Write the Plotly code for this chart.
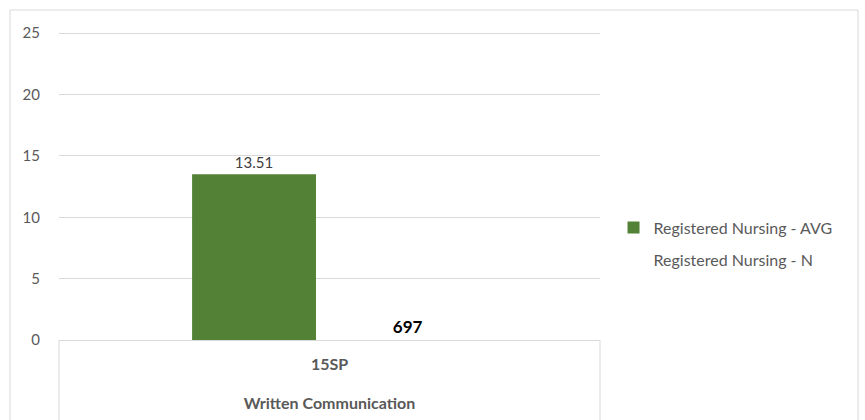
import plotly.graph_objects as go

# Chart data
group_label = "Written Communication"
terms = ["15SP"]
avg_values = [13.51]
n_values = [697]
series_names = ["Registered Nursing - AVG", "Registered Nursing - N"]

FONT = "Lato"
GRID = "#d9d9d9"
TEXT = "#595959"

fig = go.Figure()

fig.add_trace(go.Bar(
    x=terms, y=avg_values, name=series_names[0],
    marker=dict(color="#538135", line=dict(width=0)),
    width=0.229, offset=-0.254,
    text=[f"{v:.2f}" for v in avg_values], textposition="outside",
    textfont=dict(family=FONT, size=15, color="#404040"),
    cliponaxis=False, legendgroup="a",
))

# N series: counts on a hidden secondary axis, bar itself left unfilled
fig.add_trace(go.Bar(
    x=terms, y=n_values, name=series_names[1], yaxis="y2",
    marker=dict(color="rgba(0,0,0,0)", line=dict(width=0)),
    width=0.229, offset=0.03,
    text=[f"{v}" for v in n_values], textposition="inside", insidetextanchor="start",
    textfont=dict(family=FONT, size=17, color="#000000", weight="bold"),
    legendgroup="b",
))

fig.update_layout(
    width=865, height=420,
    margin=dict(l=59, r=265, t=32, b=80),
    paper_bgcolor="white", plot_bgcolor="white",
    font=dict(family=FONT, size=15, color=TEXT),
    barmode="overlay",
    showlegend=True,
    legend=dict(x=1.025, y=0.313, xanchor="left", yanchor="middle",
                font=dict(family=FONT, size=16, color=TEXT),
                tracegroupgap=8, itemwidth=30),
    xaxis=dict(type="category", range=[-0.5, 0.5], showgrid=False,
               showline=True, linecolor=GRID, linewidth=1, ticks="",
               ticklabelstandoff=10,
               tickfont=dict(family=FONT, size=16, color=TEXT, weight="bold"),
               title=dict(text=group_label, standoff=25,
                          font=dict(family=FONT, size=16, color=TEXT, weight="bold"))),
    yaxis=dict(range=[0, 25.1], dtick=5, showgrid=True, gridcolor=GRID, gridwidth=1,
               zeroline=False, showline=False, ticks="outside", ticklen=15,
               tickcolor="rgba(0,0,0,0)",
               tickfont=dict(family=FONT, size=15, color=TEXT)),
    yaxis2=dict(range=[0, 1000], overlaying="y", side="right", visible=False),
    shapes=[
        # chart border
        dict(type="rect", xref="paper", yref="paper",
             x0=-0.0906, x1=1.477, y0=-0.3, y1=1.0714,
             line=dict(color=GRID, width=1), layer="below"),
        # category group dividers
        dict(type="line", xref="paper", yref="paper", x0=0, x1=0, y0=0, y1=-0.3,
             line=dict(color=GRID, width=1)),
        dict(type="line", xref="paper", yref="paper", x0=1, x1=1, y0=0, y1=-0.3,
             line=dict(color=GRID, width=1)),
    ],
)

fig.write_html("out.html")
